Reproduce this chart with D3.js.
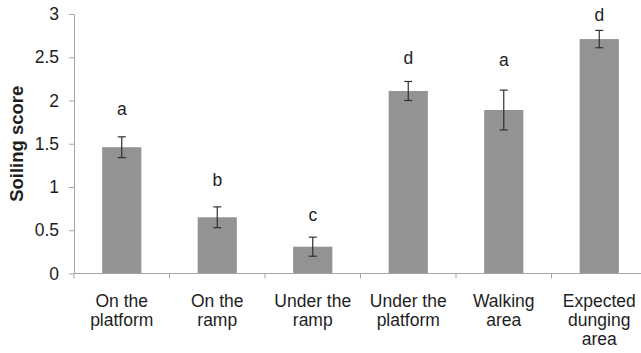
<!DOCTYPE html>
<html>
<head>
<meta charset="utf-8">
<script src="https://cdn.jsdelivr.net/npm/d3@7"></script>
<style>
  html, body { margin: 0; padding: 0; background: #ffffff; }
  svg { display: block; }
  text { font-family: "Liberation Sans", Arial, Helvetica, sans-serif; }
</style>
</head>
<body>
<svg id="chart" width="641" height="353"></svg>
<script>
// Soiling score per pen location (mean ± SE), with significance letters
const categories = [
  "On the\nplatform",
  "On the\nramp",
  "Under the\nramp",
  "Under the\nplatform",
  "Walking\narea",
  "Expected\ndunging\narea"
];
const meanScore = [1.46, 0.65, 0.31, 2.11, 1.89, 2.71];
const stdError  = [0.12, 0.12, 0.11, 0.11, 0.23, 0.10];
const groupLetters = ["a", "b", "c", "d", "a", "d"];
// height (in score units) at which each letter sits
const letterAt = [1.83, 1.01, 0.61, 2.42, 2.40, 2.92];

const yTicks = [0, 0.5, 1, 1.5, 2, 2.5, 3];
const yTickLabels = ["0", "0.5", "1", "1.5", "2", "2.5", "3"];
const yTitle = "Soiling score";

const svg = d3.select("#chart");
const plotLeft = 74, plotRight = 647, plotTop = 14, plotBottom = 273.5;
const axisColor = "#a6a6a6";
const textColor = "#1e1e1e";
const fontSize = 17.5;

const x = d3.scaleBand()
  .domain(categories)
  .range([plotLeft, plotRight])
  .paddingInner(0.59)
  .paddingOuter(0.295);

const y = d3.scaleLinear().domain([0, 3]).range([plotBottom, plotTop]);

// bars
svg.append("g").selectAll("rect")
  .data(categories)
  .join("rect")
  .attr("x", d => x(d))
  .attr("width", x.bandwidth())
  .attr("y", (d, i) => y(meanScore[i]))
  .attr("height", (d, i) => y(0) - y(meanScore[i]))
  .attr("fill", "#939393");

// error bars
const eb = svg.append("g").attr("stroke", "#303030").attr("stroke-width", 1.2);
categories.forEach((c, i) => {
  const cx = x(c) + x.bandwidth() / 2;
  const hi = y(meanScore[i] + stdError[i]);
  const lo = y(meanScore[i] - stdError[i]);
  eb.append("line").attr("x1", cx).attr("x2", cx).attr("y1", hi).attr("y2", lo);
  eb.append("line").attr("x1", cx - 4).attr("x2", cx + 4).attr("y1", hi).attr("y2", hi);
  eb.append("line").attr("x1", cx - 4).attr("x2", cx + 4).attr("y1", lo).attr("y2", lo);
});

// significance letters
svg.append("g").selectAll("text")
  .data(groupLetters)
  .join("text")
  .attr("x", (d, i) => x(categories[i]) + x.bandwidth() / 2)
  .attr("y", (d, i) => y(letterAt[i]))
  .attr("text-anchor", "middle")
  .attr("font-size", fontSize)
  .attr("fill", textColor)
  .text(d => d);

// y axis
const yAxis = svg.append("g")
  .attr("transform", `translate(${plotLeft},0)`)
  .call(d3.axisLeft(y)
    .tickValues(yTicks)
    .tickFormat((d, i) => yTickLabels[i])
    .tickSize(5)
    .tickPadding(10)
    .tickSizeOuter(0));
yAxis.select(".domain").attr("stroke", axisColor);
yAxis.selectAll(".tick line").attr("stroke", axisColor);
yAxis.selectAll(".tick text")
  .attr("font-size", fontSize)
  .attr("font-family", "\"Liberation Sans\", Arial, sans-serif")
  .attr("fill", textColor);

// x axis: baseline, boundary ticks between categories, and wrapped labels
const xAxis = svg.append("g").attr("transform", `translate(0,${plotBottom})`);
xAxis.append("line")
  .attr("x1", plotLeft).attr("x2", plotRight)
  .attr("stroke", axisColor);
const step = x.step();
xAxis.selectAll("line.sep")
  .data(d3.range(categories.length + 1))
  .join("line")
  .attr("class", "sep")
  .attr("x1", i => plotLeft + i * step)
  .attr("x2", i => plotLeft + i * step)
  .attr("y1", 0).attr("y2", 5)
  .attr("stroke", axisColor);

const labels = xAxis.selectAll("text.cat")
  .data(categories)
  .join("text")
  .attr("class", "cat")
  .attr("text-anchor", "middle")
  .attr("font-size", fontSize)
  .attr("fill", textColor)
  .attr("transform", d => `translate(${x(d) + x.bandwidth() / 2},0)`);
labels.each(function (d) {
  const t = d3.select(this);
  d.split("\n").forEach((line, k) => {
    t.append("tspan").attr("x", 0).attr("y", 33.5 + k * 19).text(line);
  });
});

// y axis title
svg.append("text")
  .attr("transform", `translate(23,${(plotTop + plotBottom) / 2}) rotate(-90)`)
  .attr("text-anchor", "middle")
  .attr("font-size", 18.5)
  .attr("font-weight", "bold")
  .attr("fill", textColor)
  .text(yTitle);
</script>
</body>
</html>
